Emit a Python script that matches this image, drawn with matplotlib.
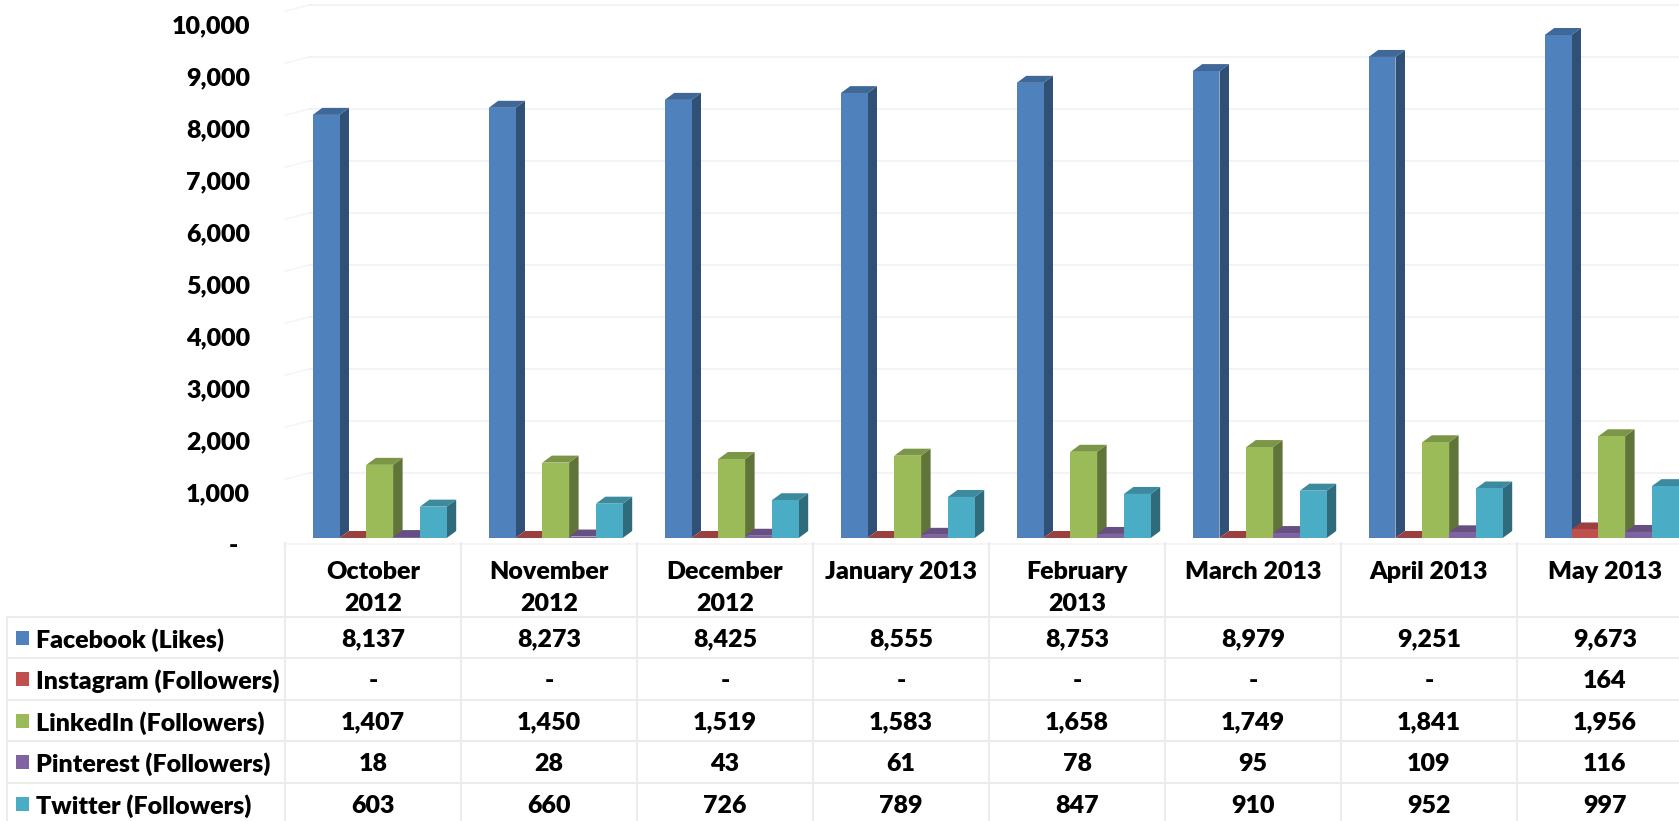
import matplotlib
matplotlib.use("Agg")
import matplotlib.pyplot as plt
from matplotlib.transforms import ScaledTranslation
import matplotlib.colors as mcolors

# ---------------- data ----------------
categories = ["October\n2012", "November\n2012", "December\n2012", "January 2013",
              "February\n2013", "March 2013", "April 2013", "May 2013"]
series_names = ["Facebook (Likes)", "Instagram (Followers)", "LinkedIn (Followers)",
                "Pinterest (Followers)", "Twitter (Followers)"]
facebook = [8137, 8273, 8425, 8555, 8753, 8979, 9251, 9673]
instagram = [0, 0, 0, 0, 0, 0, 0, 164]
linkedin = [1407, 1450, 1519, 1583, 1658, 1749, 1841, 1956]
pinterest = [18, 28, 43, 61, 78, 95, 109, 116]
twitter = [603, 660, 726, 789, 847, 910, 952, 997]
series_values = [facebook, instagram, linkedin, pinterest, twitter]
colors = ["#4F81BD", "#C0504D", "#9BBB59", "#8064A2", "#4BACC6"]
yticks = list(range(0, 10001, 1000))
ytick_labels = ["-  "] + [f"{t:,}" for t in yticks[1:]]

# ---------------- layout ----------------
W_PX, H_PX, DPI = 1679, 821, 100
FONT = "Lato"
FS = 18
FW = "heavy"
plt.rcParams["font.family"] = [FONT, "DejaVu Sans"]
plt.rcParams["font.weight"] = "bold"

fig = plt.figure(figsize=(W_PX / DPI, H_PX / DPI), dpi=DPI)
fig.patch.set_facecolor("white")

col_px = 176.0          # width of one category column in px
ax_left_px = 285.0      # left edge of first category column
base_px = 538.0         # baseline (from top)
top_px = 2.0
px_per_1000 = 52.0

ax = fig.add_axes([ax_left_px / W_PX, (H_PX - base_px) / H_PX,
                   (W_PX - ax_left_px) / W_PX, (base_px - top_px) / H_PX])
xmax = -0.5 + (W_PX - ax_left_px) / col_px
ymax = (base_px - top_px) / px_per_1000 * 1000
ax.set_xlim(-0.5, xmax)
ax.set_ylim(0, ymax)
for sp in ax.spines.values():
    sp.set_visible(False)
ax.set_xticks([])
ax.patch.set_alpha(0)

# gridlines on back wall (shifted up)
grid_off = ScaledTranslation(0, 13 / DPI, fig.dpi_scale_trans)
for t in yticks[1:]:
    ax.plot([-0.5 + 24 / col_px, xmax], [t, t], color="#f1f1f1", lw=1.2,
            transform=ax.transData + grid_off, zorder=0, clip_on=False)
    ax.plot([-0.5, -0.5 + 24 / col_px], [t - 120, t], color="#f4f4f4", lw=1.0,
            transform=ax.transData + grid_off, zorder=0, clip_on=False)

# y tick labels
ax.set_yticks(yticks)
ax.set_yticklabels(ytick_labels, fontsize=FS, fontweight=FW, fontfamily=FONT)
ax.tick_params(axis="y", length=0, pad=35 * 72 / DPI)
lab_off = ScaledTranslation(0, -6 / DPI, fig.dpi_scale_trans)
for lab in ax.get_yticklabels():
    lab.set_transform(lab.get_transform() + lab_off)

# 3D-looking bars
BW = 26.8 / col_px
GROUP_START = -0.5 + 27.7 / col_px
DX = 9.5 / col_px
DY = 7.0 / px_per_1000 * 1000


def shade(c, f):
    r, g, b = mcolors.to_rgb(c)
    return (r * f, g * f, b * f)


for k, (vals, c) in enumerate(zip(series_values, colors)):
    xs = [i + GROUP_START + k * BW for i in range(len(vals))]
    zo = 2 + k
    for xl, v in zip(xs, vals):
        ax.fill([xl + BW, xl + BW + DX, xl + BW + DX, xl + BW],
                [0, DY, v + DY, v], color=shade(c, 0.62), lw=0, zorder=zo)
        ax.fill([xl, xl + BW, xl + BW + DX, xl + DX],
                [v, v, v + DY, v + DY], color=shade(c, 0.8), lw=0, zorder=zo)
    ax.bar(xs, vals, width=BW, align="edge", color=c, lw=0, zorder=zo + 0.5)

# ---------------- data table ----------------
tab_top_px = 543.0
tax = fig.add_axes([ax_left_px / W_PX, 0, (W_PX - ax_left_px) / W_PX,
                    (H_PX - tab_top_px) / H_PX])
tax.set_xlim(-0.5, xmax)
tax.set_ylim(H_PX, tab_top_px)   # pixel rows from top
tax.axis("off")
tax.patch.set_alpha(0)

line_c = "#ececec"
header_bottom = 617.0
row_h = 41.5
left_px = 7.0
x_left_edge = -0.5 - (ax_left_px - left_px) / col_px
n = len(categories)

# horizontal lines
tax.plot([-0.5, xmax], [tab_top_px + 1, tab_top_px + 1], color="#f3f3f3", lw=1.2, clip_on=False)
for r in range(len(series_names) + 1):
    y = header_bottom + r * row_h
    tax.plot([x_left_edge, xmax], [y, y], color=line_c, lw=1.5, clip_on=False)
# vertical lines
tax.plot([x_left_edge, x_left_edge], [header_bottom, H_PX], color=line_c, lw=1.5, clip_on=False)
for i in range(n + 1):
    xv = i - 0.5
    tax.plot([xv, xv], [tab_top_px, H_PX], color=line_c, lw=1.5, clip_on=False)

# header labels
for i, cat in enumerate(categories):
    tax.text(i, 561, cat, ha="center", va="top", fontsize=FS, fontweight=FW,
             fontfamily=FONT, linespacing=1.55, clip_on=False)

# rows
sq_x0 = -0.5 - (ax_left_px - 16) / col_px
sq_w = 13 / col_px
txt_x = -0.5 - (ax_left_px - 36) / col_px
for r, (name, vals, c) in enumerate(zip(series_names, series_values, colors)):
    yc = header_bottom + r * row_h + row_h / 2
    tax.add_patch(plt.Rectangle((sq_x0, yc - 7), sq_w, 14, color=c, lw=0, clip_on=False))
    tax.text(txt_x, yc, name, ha="left", va="center_baseline", fontsize=FS,
             fontweight=FW, fontfamily=FONT, clip_on=False)
    for i, v in enumerate(vals):
        s = "-" if v == 0 else f"{v:,}"
        tax.text(i, yc, s, ha="center", va="center_baseline", fontsize=FS,
                 fontweight=FW, fontfamily=FONT, clip_on=False)

fig.savefig("out.png", dpi=DPI, facecolor="white")
